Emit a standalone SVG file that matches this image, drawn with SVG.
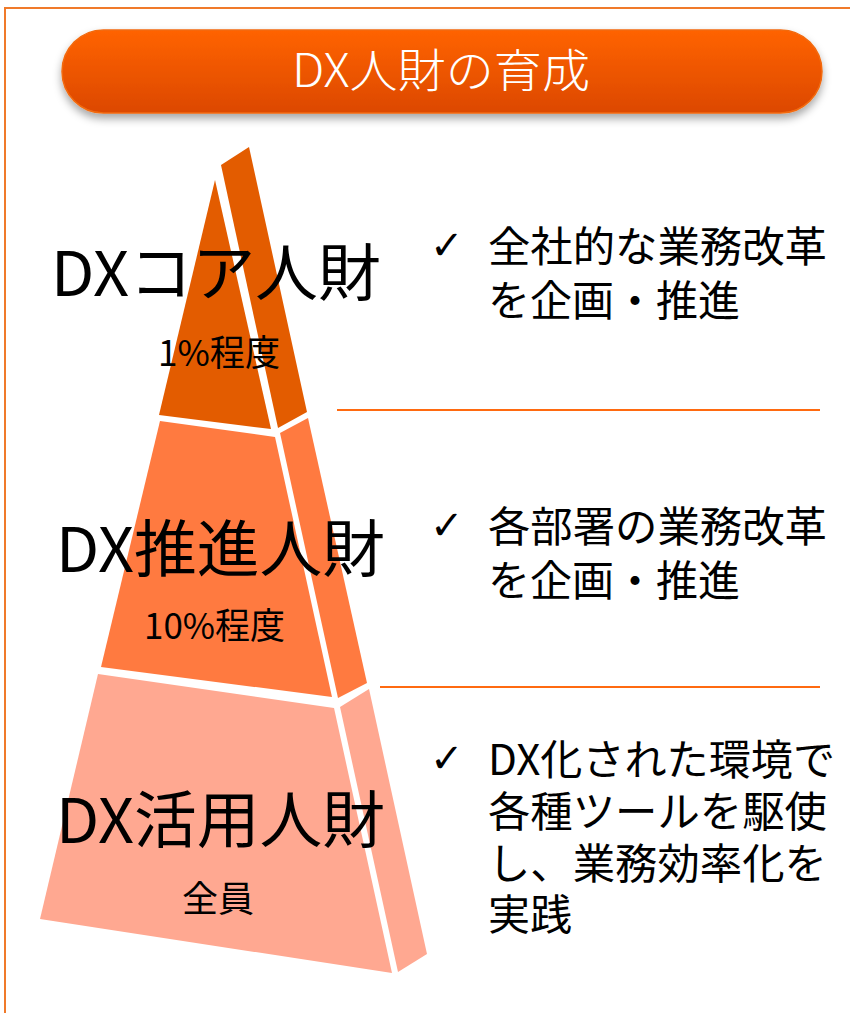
<svg xmlns="http://www.w3.org/2000/svg" width="850" height="1013" viewBox="0 0 850 1013">
  <defs>
    <linearGradient id="pillGrad" x1="0" y1="0" x2="0" y2="1">
      <stop offset="0" stop-color="#FF6300"/>
      <stop offset="1" stop-color="#DC4800"/>
    </linearGradient>
    <filter id="shadow" x="-10%" y="-30%" width="120%" height="180%">
      <feDropShadow dx="0" dy="5" stdDeviation="4" flood-color="#000" flood-opacity="0.35"/>
    </filter>
  </defs>
  <style>
    .big { font-family: "Noto Sans CJK JP", "Noto Sans", sans-serif; font-size: 62px; fill: #000; }
    .sub { font-family: "Noto Sans CJK JP", "Noto Sans", sans-serif; font-size: 36px; fill: #000; }
    .bul { font-family: "Noto Sans CJK JP", "Noto Sans", sans-serif; font-size: 42px; fill: #000; }
    .chk { font-family: "DejaVu Sans", sans-serif; font-size: 40px; font-weight: bold; fill: #000; }
    .sep { stroke: #FF6A10; stroke-width: 2; fill: none; }
    .t1 { fill: #E35C00; }
    .t2 { fill: #FF7A40; }
    .t3 { fill: #FFA891; }
  </style>
  <rect x="0" y="0" width="850" height="1013" fill="#FFFFFF"/>
  <rect id="frame" x="5" y="8" width="900" height="1100" fill="none" stroke="#F07A2A" stroke-width="2"/>

  <g id="title">
    <rect x="62" y="30" width="760" height="83" rx="41.5" ry="41.5" fill="url(#pillGrad)" stroke="#F26A10" stroke-width="1.5" filter="url(#shadow)"/>
    <text x="292" y="87" textLength="298" lengthAdjust="spacingAndGlyphs" font-family="'Noto Sans CJK JP', 'Noto Sans', sans-serif" font-size="46" font-weight="300" fill="#FFFFFF">DX人財の育成</text>
  </g>

  <g id="tier-core">
    <polygon class="t1" points="215,180 271,429 159,415"/>
    <polygon class="t1" points="221,165 249,147 307,412 278,428"/>
    <text class="big" x="51" y="296" textLength="330" lengthAdjust="spacingAndGlyphs">DXコア人財</text>
    <text class="sub" x="158" y="366" textLength="122" lengthAdjust="spacingAndGlyphs">1%程度</text>
  </g>

  <g id="tier-promo">
    <polygon class="t2" points="160,421 275,437 332,697 101,667"/>
    <polygon class="t2" points="280,433 308,418 367,683 338,698"/>
    <text class="big" x="56" y="572" textLength="329" lengthAdjust="spacingAndGlyphs">DX推進人財</text>
    <text class="sub" x="144" y="639" textLength="141" lengthAdjust="spacingAndGlyphs">10%程度</text>
  </g>

  <g id="tier-use">
    <polygon class="t3" points="98,674 334,708 392,973 40,919"/>
    <polygon class="t3" points="340,707 369,689 427,954 398,972"/>
    <text class="big" x="56" y="843" textLength="329" lengthAdjust="spacingAndGlyphs">DX活用人財</text>
    <text class="sub" x="182" y="912">全員</text>
  </g>

  <g id="connectors">
    <line class="sep" x1="337" y1="410" x2="820" y2="410"/>
    <line class="sep" x1="380" y1="687" x2="820" y2="687"/>
  </g>

  <g id="desc-core">
    <text class="chk" x="430" y="259">✓</text>
    <text class="bul" x="488" y="262" textLength="339" lengthAdjust="spacingAndGlyphs">全社的な業務改革</text>
    <text class="bul" x="488" y="316">を企画・推進</text>
  </g>

  <g id="desc-promo">
    <text class="chk" x="430" y="539">✓</text>
    <text class="bul" x="488" y="542" textLength="339" lengthAdjust="spacingAndGlyphs">各部署の業務改革</text>
    <text class="bul" x="488" y="596">を企画・推進</text>
  </g>

  <g id="desc-use">
    <text class="chk" x="430" y="772">✓</text>
    <text class="bul" x="488" y="775" textLength="347" lengthAdjust="spacingAndGlyphs">DX化された環境で</text>
    <text class="bul" x="488" y="827" textLength="339" lengthAdjust="spacingAndGlyphs">各種ツールを駆使</text>
    <text class="bul" x="488" y="879" textLength="339" lengthAdjust="spacingAndGlyphs">し、業務効率化を</text>
    <text class="bul" x="488" y="930">実践</text>
  </g>
</svg>
